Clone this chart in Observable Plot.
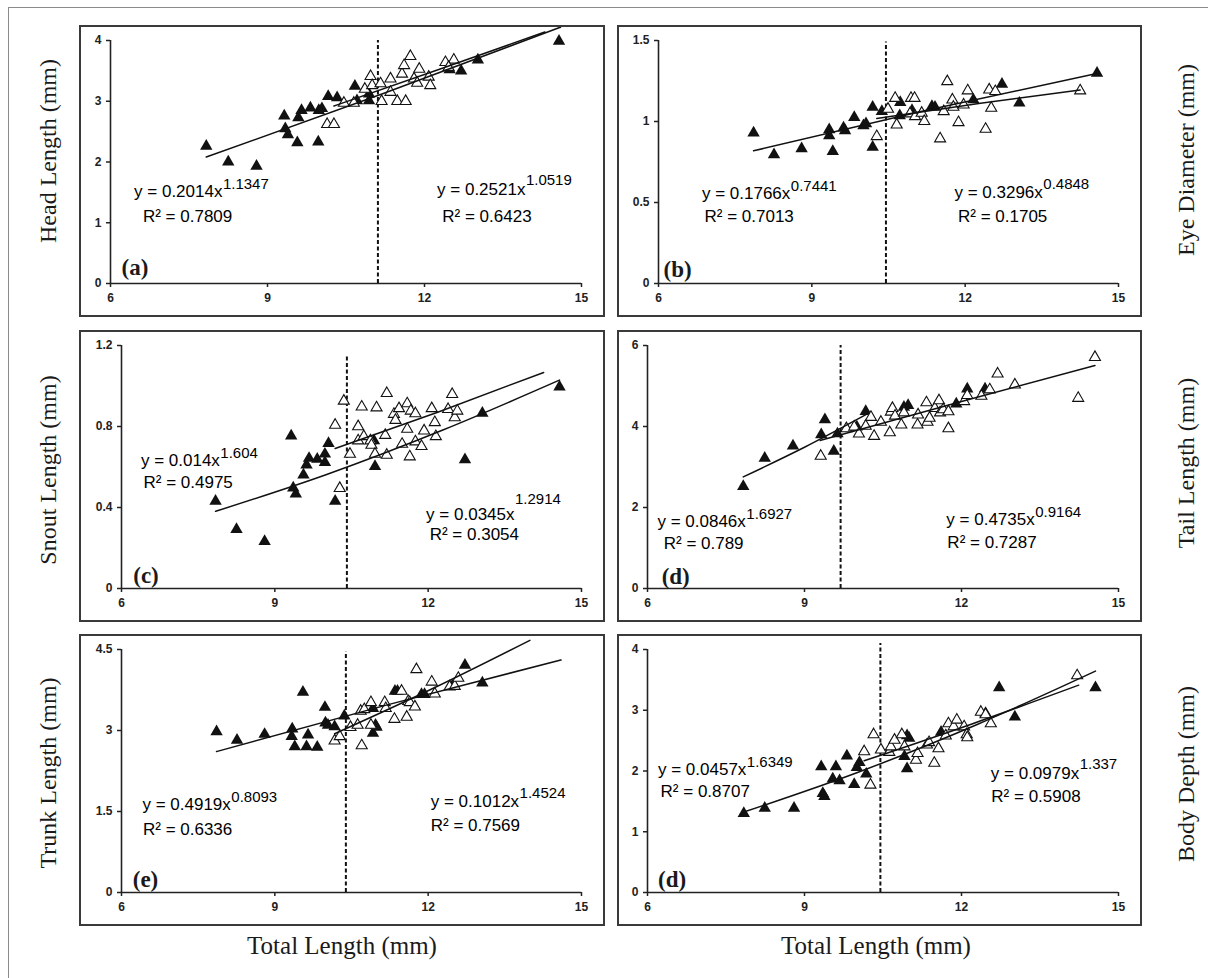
<!DOCTYPE html>
<html><head><meta charset="utf-8">
<script src="https://cdn.jsdelivr.net/npm/d3@7"></script>
<script src="https://cdn.jsdelivr.net/npm/@observablehq/plot@0.6"></script>
<style>
body{margin:0;background:#fff;}
#fig{position:relative;width:1208px;height:978px;overflow:hidden;background:#fff;}
.frame{position:absolute;left:8px;top:7px;width:1300px;height:1000px;border-left:1.5px solid #8a8a8a;border-top:1.5px solid #8a8a8a;}
.panel{position:absolute;}
.panel svg{position:absolute;left:0;top:0;overflow:visible;}
.box{position:absolute;left:0;top:0;right:0;bottom:0;border:2px solid #3a3a3a;box-sizing:border-box;pointer-events:none;}
.ylab{position:absolute;font-family:"Liberation Serif",serif;font-size:24px;color:#1a1a1a;white-space:nowrap;transform:translate(-50%,-50%) rotate(-90deg);}
.xlab{position:absolute;font-family:"Liberation Serif",serif;font-size:25px;color:#1a1a1a;white-space:nowrap;transform:translate(-50%,-50%);}
</style></head><body><div id="fig"><div class="frame"></div></div>
<script>
// ---------------- DATA ----------------
const xTicks = [6, 9, 12, 15];
const yLabels = ["Head Length (mm)", "Eye Diameter (mm)", "Snout Length (mm)", "Tail Length (mm)", "Trunk Length (mm)", "Body Depth (mm)"];
const xLabel = "Total Length (mm)";
const panelLetters = ["(a)", "(b)", "(c)", "(d)", "(e)", "(d)"];
const yTickSets = [[0,1,2,3,4],[0,0.5,1,1.5],[0,0.4,0.8,1.2],[0,2,4,6],[0,1.5,3,4.5],[0,1,2,3,4]];
const breakPoints = [11.11, 10.45, 10.41, 9.69, 10.39, 10.45];

const eqLeft  = ["y = 0.2014x", "y = 0.1766x", "y = 0.014x", "y = 0.0846x", "y = 0.4919x", "y = 0.0457x"];
const expLeft = ["1.1347", "0.7441", "1.604", "1.6927", "0.8093", "1.6349"];
const r2Left  = ["R² = 0.7809", "R² = 0.7013", "R² = 0.4975", "R² = 0.789", "R² = 0.6336", "R² = 0.8707"];
const eqRight  = ["y = 0.2521x", "y = 0.3296x", "y = 0.0345x", "y = 0.4735x", "y = 0.1012x", "y = 0.0979x"];
const expRight = ["1.0519", "0.4848", "1.2914", "0.9164", "1.4524", "1.337"];
const r2Right  = ["R² = 0.6423", "R² = 0.1705", "R² = 0.3054", "R² = 0.7287", "R² = 0.7569", "R² = 0.5908"];

// (a) Head length
const headFilled = [[7.83,2.26],[8.25,2.00],[8.79,1.93],[9.32,2.76],[9.34,2.55],[9.39,2.45],[9.57,2.32],[9.59,2.73],[9.65,2.85],[9.82,2.89],[9.97,2.33],[9.98,2.85],[10.04,2.88],[10.16,3.08],[10.33,3.06],[10.67,3.25],[10.71,3.01],[10.94,3.12],[10.94,3.01],[12.48,3.52],[12.70,3.50],[13.02,3.68],[14.57,3.99]];
const headOpen = [[10.14,2.62],[10.27,2.62],[10.46,2.97],[10.65,2.97],[10.86,3.20],[10.97,3.41],[11.00,3.26],[11.18,3.00],[11.16,3.29],[11.35,3.37],[11.35,3.15],[11.48,3.00],[11.64,3.00],[11.57,3.45],[11.61,3.59],[11.73,3.74],[11.80,3.37],[11.86,3.30],[11.90,3.53],[12.08,3.40],[12.11,3.26],[12.40,3.64],[12.56,3.68],[12.46,3.56]];
const headFitFilled = [[7.83,2.081],[11.2,3.123],[14.6,4.219]];
const headFitOpen = [[10.27,2.922],[12.3,3.532],[14.3,4.139]];

// (b) Eye diameter
const eyeFilled = [[7.86,0.929],[8.26,0.795],[8.80,0.832],[9.34,0.949],[9.34,0.912],[9.41,0.816],[9.62,0.96],[9.65,0.943],[9.83,1.025],[10.01,0.974],[10.06,0.986],[10.19,1.089],[10.19,0.842],[10.37,1.062],[10.73,1.118],[10.72,1.036],[10.96,1.068],[11.35,1.093],[11.41,1.089],[12.16,1.134],[12.72,1.231],[13.06,1.114],[14.58,1.299]];
const eyeOpen = [[10.27,0.908],[10.49,1.077],[10.63,1.144],[10.66,0.98],[10.94,1.144],[11.01,1.144],[10.92,1.048],[11.02,1.031],[11.15,1.052],[11.20,1.001],[11.51,0.894],[11.58,1.062],[11.65,1.247],[11.75,1.134],[11.77,1.089],[11.87,0.994],[11.97,1.103],[12.05,1.19],[12.40,0.953],[12.47,1.196],[12.51,1.083],[12.59,1.186],[14.25,1.19]];
const eyeFitFilled = [[7.86,0.819],[11.2,1.066],[14.58,1.297]];
const eyeFitOpen = [[10.27,1.019],[12.3,1.113],[14.25,1.195]];

// (c) Snout length
const snoutFilled = [[7.84,0.431],[8.25,0.292],[8.80,0.233],[9.32,0.754],[9.36,0.497],[9.41,0.467],[9.56,0.561],[9.62,0.61],[9.67,0.643],[9.83,0.639],[9.98,0.664],[9.98,0.623],[10.05,0.716],[10.18,0.431],[10.94,0.73],[10.96,0.603],[12.72,0.636],[13.06,0.866],[14.57,0.995]];
const snoutOpen = [[10.18,0.807],[10.27,0.495],[10.35,0.926],[10.47,0.664],[10.63,0.80],[10.63,0.73],[10.70,0.897],[10.74,0.751],[10.87,0.73],[10.89,0.708],[10.99,0.893],[10.96,0.664],[11.16,0.757],[11.19,0.964],[11.19,0.659],[11.33,0.861],[11.36,0.831],[11.43,0.889],[11.49,0.713],[11.59,0.913],[11.59,0.787],[11.66,0.877],[11.64,0.651],[11.75,0.864],[11.75,0.725],[11.87,0.702],[11.92,0.779],[12.07,0.889],[12.13,0.82],[12.15,0.751],[12.39,0.885],[12.47,0.959],[12.52,0.844],[12.57,0.877]];
const snoutFitFilled = [[7.84,0.381],[10,0.562],[12.3,0.784],[14.57,1.029]];
const snoutFitOpen = [[10.18,0.691],[12.2,0.872],[14.26,1.067]];

// (d) Tail length
const tailFilled = [[7.83,2.52],[8.24,3.22],[8.78,3.52],[9.32,3.80],[9.39,4.17],[9.56,3.39],[9.63,3.82],[10.0,3.99],[10.17,4.37],[10.90,4.48],[10.98,4.52],[11.90,4.56],[12.11,4.93],[12.45,4.93]];
const tailOpen = [[9.31,3.27],[9.80,3.95],[9.95,3.99],[10.04,3.82],[10.17,4.01],[10.27,4.23],[10.33,3.76],[10.46,4.11],[10.63,3.85],[10.65,4.36],[10.68,4.45],[10.73,4.26],[10.85,4.04],[10.90,4.34],[11.16,4.04],[11.17,4.29],[11.33,4.59],[11.35,4.11],[11.39,4.21],[11.49,4.45],[11.57,4.64],[11.59,4.34],[11.65,4.42],[11.75,4.37],[11.75,3.95],[12.05,4.62],[12.11,4.77],[12.38,4.75],[12.54,4.91],[12.69,5.30],[13.02,5.03],[14.23,4.70],[14.55,5.71]];
const tailFitFilled = [[7.83,2.756],[9.0,3.487],[10.2,4.310]];
const tailFitOpen = [[9.3,3.654],[12,4.617],[14.55,5.508]];

// (e) Trunk length
const trunkFilled = [[7.86,2.98],[8.26,2.82],[8.80,2.93],[9.34,3.03],[9.33,2.89],[9.39,2.70],[9.55,3.71],[9.62,2.70],[9.65,2.92],[9.83,2.69],[9.98,3.43],[9.99,3.14],[10.04,3.10],[10.17,3.07],[10.36,3.27],[10.92,2.95],[10.97,3.10],[10.99,3.06],[10.92,3.41],[11.35,3.73],[11.40,3.73],[11.87,3.67],[11.93,3.67],[12.47,3.82],[12.72,4.21],[13.06,3.88]];
const trunkOpen = [[10.17,2.81],[10.27,2.89],[10.48,3.06],[10.62,3.10],[10.68,3.36],[10.70,2.72],[10.75,3.39],[10.88,3.52],[10.88,3.10],[11.15,3.52],[11.17,3.41],[11.34,3.21],[11.48,3.73],[11.58,3.25],[11.61,3.54],[11.64,3.52],[11.74,3.44],[11.77,4.13],[12.07,3.90],[12.13,3.68],[12.42,3.81],[12.52,3.82],[12.59,3.97]];
const trunkFitFilled = [[7.86,2.610],[11.2,3.475],[14.6,4.307]];
const trunkFitOpen = [[10.17,2.939],[12.1,3.782],[13.99,4.670]];

// (f) Body depth
const bodyFilled = [[7.84,1.30],[8.24,1.39],[8.80,1.39],[9.32,2.07],[9.35,1.63],[9.38,1.58],[9.54,1.87],[9.60,2.07],[9.67,1.84],[9.81,2.25],[9.95,1.78],[10.0,2.06],[10.05,2.14],[10.18,1.95],[10.91,2.24],[10.96,2.04],[10.96,2.58],[11.0,2.54],[11.61,2.64],[12.46,2.95],[12.72,3.37],[13.02,2.89],[14.56,3.37]];
const bodyOpen = [[10.14,2.32],[10.26,1.77],[10.32,2.60],[10.46,2.35],[10.62,2.31],[10.65,2.40],[10.72,2.51],[10.86,2.60],[10.91,2.40],[11.13,2.18],[11.16,2.29],[11.34,2.43],[11.38,2.47],[11.48,2.13],[11.56,2.37],[11.70,2.58],[11.75,2.78],[11.85,2.73],[11.91,2.84],[12.05,2.73],[12.10,2.60],[12.11,2.55],[12.37,2.97],[12.46,2.93],[12.56,2.78],[14.21,3.57]];
const bodyFitFilled = [[7.84,1.324],[10,1.972],[12.3,2.766],[14.56,3.644]];
const bodyFitOpen = [[10.14,2.168],[12.2,2.775],[14.24,3.413]];

const filledSets = [headFilled, eyeFilled, snoutFilled, tailFilled, trunkFilled, bodyFilled];
const openSets = [headOpen, eyeOpen, snoutOpen, tailOpen, trunkOpen, bodyOpen];
const fitFilledSets = [headFitFilled, eyeFitFilled, snoutFitFilled, tailFitFilled, trunkFitFilled, bodyFitFilled];
const fitOpenSets = [headFitOpen, eyeFitOpen, snoutFitOpen, tailFitOpen, trunkFitOpen, bodyFitOpen];

// ---------------- LAYOUT (positions & styles) ----------------
const layout = [
  {left:79,  top:25,  width:526, mL:31, cutTop:4.0,  eqL:[6.45,1.42], r2L:[6.62,1.01], eqR:[12.24,1.45], r2R:[12.34,1.01], lab:[6.21,0.14], supL:8, supR:10, ylab:[48,151]},
  {left:617, top:25,  width:525, mL:41, cutTop:1.49, eqL:[6.85,0.52], r2L:[6.90,0.378], eqR:[11.79,0.528], r2R:[11.86,0.378], lab:[6.10,0.04], supL:8, supR:9, ylab:[1186,160]},
  {left:79,  top:330, width:526, mL:42, cutTop:1.156, eqL:[6.38,0.607], r2L:[6.43,0.497], eqR:[11.96,0.336], r2R:[12.03,0.238], lab:[6.23,0.025], supL:8, supR:16, ylab:[48,470]},
  {left:617, top:330, width:525, mL:30, cutTop:6.0, eqL:[6.19,1.52], r2L:[6.31,0.97], eqR:[11.71,1.56], r2R:[11.73,1.0], lab:[6.27,0.12], supL:8, supR:8, ylab:[1186,463]},
  {left:79,  top:634, width:526, mL:42, cutTop:4.46, eqL:[6.41,1.53], r2L:[6.42,1.07], eqR:[12.05,1.58], r2R:[12.05,1.14], lab:[6.22,0.1], supL:8, supR:9, ylab:[48,773]},
  {left:617, top:634, width:525, mL:30, cutTop:4.1, eqL:[6.20,1.94], r2L:[6.25,1.58], eqR:[12.56,1.87], r2R:[12.57,1.49], lab:[6.20,0.09], supL:8, supR:10, ylab:[1186,774]}
];
const H = 292;
const eqFont = 17, supFont = 15;
const eqFamily = "Liberation Sans";

const ctx = document.createElement("canvas").getContext("2d");
function textWidth(s, size) { ctx.font = `${size}px "${eqFamily}"`; return ctx.measureText(s).width; }

const fig = document.getElementById("fig");

layout.forEach((L, i) => {
  const yTicks = yTickSets[i];
  const ymax = yTicks[yTicks.length - 1];
  const pt = d => ({x: d[0], y: d[1]});
  const filled = filledSets[i].map(pt), open = openSets[i].map(pt);
  const fitF = fitFilledSets[i].map(pt), fitO = fitOpenSets[i].map(pt);
  const cut = [{x: breakPoints[i], y1: 0, y2: L.cutTop}];
  const txt = (pos, s) => [{x: pos[0], y: pos[1], s}];
  const textOpts = {x: "x", y: "y", text: "s", textAnchor: "start", lineAnchor: "bottom", fontSize: eqFont, fontFamily: eqFamily, fill: "#000"};
  const supOpts = (main, raise) => ({x: "x", y: "y", text: "s", textAnchor: "start", lineAnchor: "bottom", fontSize: supFont, fontFamily: eqFamily, fill: "#000", dx: textWidth(main, eqFont) + 0.5, dy: -raise});
  const axisText = {fontSize: 12, fontWeight: "bold", fill: "#222"};

  const chart = Plot.plot({
    width: L.width, height: H,
    marginLeft: L.mL, marginRight: 24, marginTop: 15, marginBottom: 34,
    x: {domain: [6, 15]},
    y: {domain: [0, ymax]},
    style: {background: "transparent", fontFamily: "Liberation Sans", fontSize: "12px", overflow: "visible"},
    marks: [
      Plot.axisX(xTicks, {tickSize: 4, tickPadding: 6, tickFormat: d => String(d), label: null, strokeWidth: 1.5, stroke: "#222", ...axisText}),
      Plot.axisY(yTicks, {tickSize: 4, tickPadding: 5, tickFormat: d => String(d), label: null, strokeWidth: 1.5, stroke: "#222", ...axisText}),
      Plot.ruleY([0], {stroke: "#222", strokeWidth: 1.6}),
      Plot.ruleX([6], {stroke: "#222", strokeWidth: 1.6}),
      Plot.ruleX(cut, {x: "x", y1: "y1", y2: "y2", stroke: "#111", strokeWidth: 2, strokeDasharray: "4,2.5"}),
      Plot.dot(filled, {x: "x", y: "y", symbol: "triangle", r: 4.6, fill: "#111", stroke: "none"}),
      Plot.dot(open, {x: "x", y: "y", symbol: "triangle", r: 4.1, fill: "white", stroke: "#111", strokeWidth: 1.1}),
      Plot.line(fitF, {x: "x", y: "y", curve: "monotone-x", stroke: "#111", strokeWidth: 1.5}),
      Plot.line(fitO, {x: "x", y: "y", curve: "monotone-x", stroke: "#111", strokeWidth: 1.5}),
      Plot.text(txt(L.eqL, eqLeft[i]), textOpts),
      Plot.text(txt(L.eqL, expLeft[i]), supOpts(eqLeft[i], L.supL)),
      Plot.text(txt(L.r2L, r2Left[i]), textOpts),
      Plot.text(txt(L.eqR, eqRight[i]), textOpts),
      Plot.text(txt(L.eqR, expRight[i]), supOpts(eqRight[i], L.supR)),
      Plot.text(txt(L.r2R, r2Right[i]), textOpts),
      Plot.text(txt(L.lab, panelLetters[i]), {x: "x", y: "y", text: "s", textAnchor: "start", lineAnchor: "bottom", fontSize: 23, fontFamily: "Liberation Serif", fontWeight: "bold", fill: "#1a1a1a"})
    ]
  });

  const div = document.createElement("div");
  div.className = "panel";
  div.style.left = L.left + "px"; div.style.top = L.top + "px";
  div.style.width = L.width + "px"; div.style.height = H + "px";
  div.appendChild(chart);
  const box = document.createElement("div"); box.className = "box"; div.appendChild(box);
  fig.appendChild(div);

  const yl = document.createElement("div");
  yl.className = "ylab"; yl.textContent = yLabels[i];
  yl.style.left = L.ylab[0] + "px"; yl.style.top = L.ylab[1] + "px";
  fig.appendChild(yl);
});

[[342, 946], [876, 946]].forEach(p => {
  const xl = document.createElement("div");
  xl.className = "xlab"; xl.textContent = xLabel;
  xl.style.left = p[0] + "px"; xl.style.top = p[1] + "px";
  fig.appendChild(xl);
});
</script></body></html>
